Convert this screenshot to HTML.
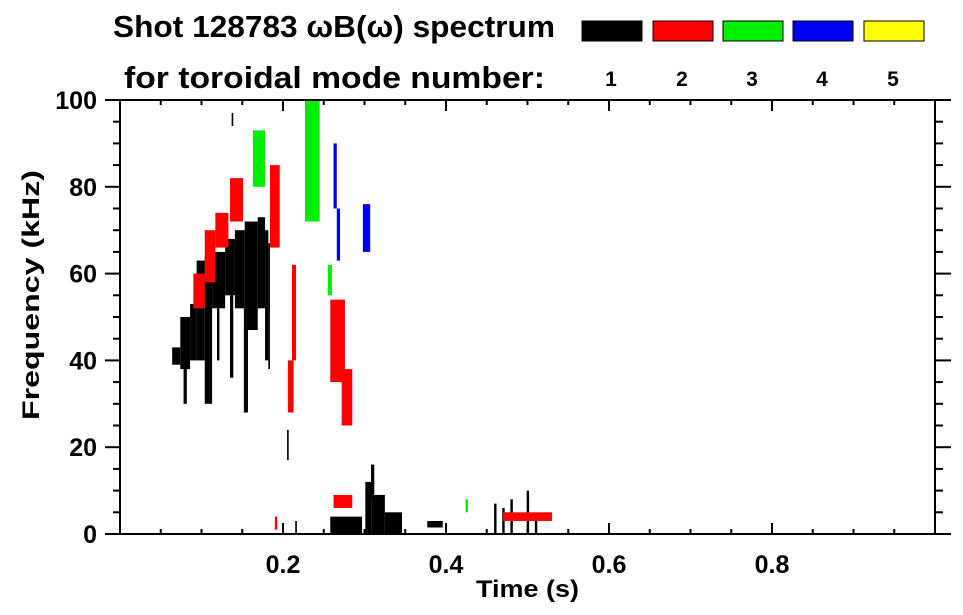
<!DOCTYPE html>
<html><head><meta charset="utf-8"><style>
body{margin:0;background:#fff;}
svg{display:block;font-family:"Liberation Sans",sans-serif;font-weight:bold;}
</style></head><body>
<svg id="chart" width="963" height="615">
<text x="113" y="37" font-size="31" textLength="442" lengthAdjust="spacingAndGlyphs">Shot 128783 ωB(ω) spectrum</text>
<text x="124" y="88" font-size="31" textLength="421" lengthAdjust="spacingAndGlyphs">for toroidal mode number:</text>
<g id="legend"></g>
<g id="marks"></g>
<g id="axes"></g>
<text x="476" y="597" font-size="24" textLength="103" lengthAdjust="spacingAndGlyphs">Time (s)</text>
<text transform="translate(39,420) rotate(-90)" font-size="24" textLength="250" lengthAdjust="spacingAndGlyphs">Frequency (kHz)</text>
</svg>
<script>
const modeColors=["#000000","#ff0000","#00ee00","#0000ff","#ffff00"];
const modeLabels=["1","2","3","4","5"];
const xTicks=[0.2,0.4,0.6,0.8];
const yTicks=[0,20,40,60,80,100];
// spectral patches: mode, t0, t1, f0, f1
const patchMode=[1,1,1,1,1,1,1,1,1,1,1,1,1,1,1,1,1, 1,1,1,1,1,1, 1,1,1,1,1,
 2,2,2,2,2,2,2,2,2,2,2,2, 3,3,3,3, 4,4,4, 1,1];
const patchT0=[.064,.074,.078,.086,.094,.104,.113,.129,.135,.141,.152,.153,.169,.178,.182,.119,.205,
 .258,.301,.308,.309,.325,.377, .459,.469,.479,.499,.509,
 .090,.104,.117,.135,.184,.211,.206,.258,.272,.262,.470,.190, .163,.227,.255,.424, .262,.266,.298, .137,.215];
const patchT1=[.074,.086,.082,.094,.104,.113,.129,.141,.139,.153,.157,.169,.178,.182,.184,.122,.207,
 .297,.309,.312,.325,.346,.396, .462,.472,.482,.502,.512,
 .104,.117,.133,.151,.196,.216,.213,.276,.285,.285,.530,.193, .178,.245,.260,.427, .266,.270,.307, .139,.217];
const patchF0=[39,38,30,40,40,30,52,55,36,52,28,47,52,40,38,40,17,
 0,0,8,0,0,1.5, 0,0,0,0,0,
 52,58,66,72,66,40,28,35,25,6,3,1, 80,72,55,5, 75,63,65, 94,0];
const patchF1=[43,50,38,53,63,64,65,68,55,70,52,72,73,70,67,52,24,
 4,12,16,9,5,3, 7,6,8,10,4,
 60,70,74,82,85,62,40,54,38,9,5,4, 93,100,62,8, 90,75,76, 97,3];

const NS="http://www.w3.org/2000/svg";
const L=120,R=935,T=100,B=534;
const xs=t=>L+t*(R-L);
const ys=f=>B-f*(B-T)/100;
function mk(tag,attrs,parent){const e=document.createElementNS(NS,tag);for(const k in attrs)e.setAttribute(k,attrs[k]);parent.appendChild(e);return e;}

const marks=document.getElementById('marks');
for(let i=0;i<patchMode.length;i++){
  const x0=xs(patchT0[i]),x1=xs(patchT1[i]),y0=ys(patchF1[i]),y1=ys(patchF0[i]);
  const r=mk('rect',{x:x0,y:y0,width:Math.max(1,x1-x0),height:Math.max(1,y1-y0),fill:modeColors[patchMode[i]-1]},marks);
  
  
}

const lg=document.getElementById('legend');
const boxX=[582,653,723,793,864];
for(let i=0;i<modeColors.length;i++){
  const b=mk('rect',{x:boxX[i],y:21,width:60,height:20,fill:modeColors[i],stroke:'#000','stroke-width':1},lg);
  
  
  const t=mk('text',{x:boxX[i]+29,y:86,'font-size':21,'text-anchor':'middle'},lg);
  t.textContent=modeLabels[i];
  
  
}

const ax=document.getElementById('axes');
const ln=(x1,y1,x2,y2)=>mk('line',{x1,y1,x2,y2,stroke:'#000','stroke-width':2},ax);
ln(L,T,R,T);ln(L,B,R,B);ln(L,T,L,B);ln(R,T,R,B);
for(let f=0;f<=100;f+=5){
  const y=ys(f),maj=f%20===0;
  ln(maj?105:113,y,L,y);ln(R,y,maj?951:943,y);
}
for(let t=0.05;t<1;t+=0.05){
  const x=xs(t),maj=Math.abs(t*10-Math.round(t*10))<1e-6&&Math.round(t*10)%2===0;
  ln(x,B,x,maj?523:529);ln(x,T,x,maj?111:105);
}
yTicks.forEach(v=>{
  const t=mk('text',{x:97,y:ys(v)+9,'font-size':25,'text-anchor':'end'},ax);
  t.textContent=String(v);
  
  
});
xTicks.forEach(v=>{
  const t=mk('text',{x:xs(v),y:573,'font-size':25,'text-anchor':'middle'},ax);
  t.textContent=v.toFixed(1);
  
  
});
</script>
</body></html>
